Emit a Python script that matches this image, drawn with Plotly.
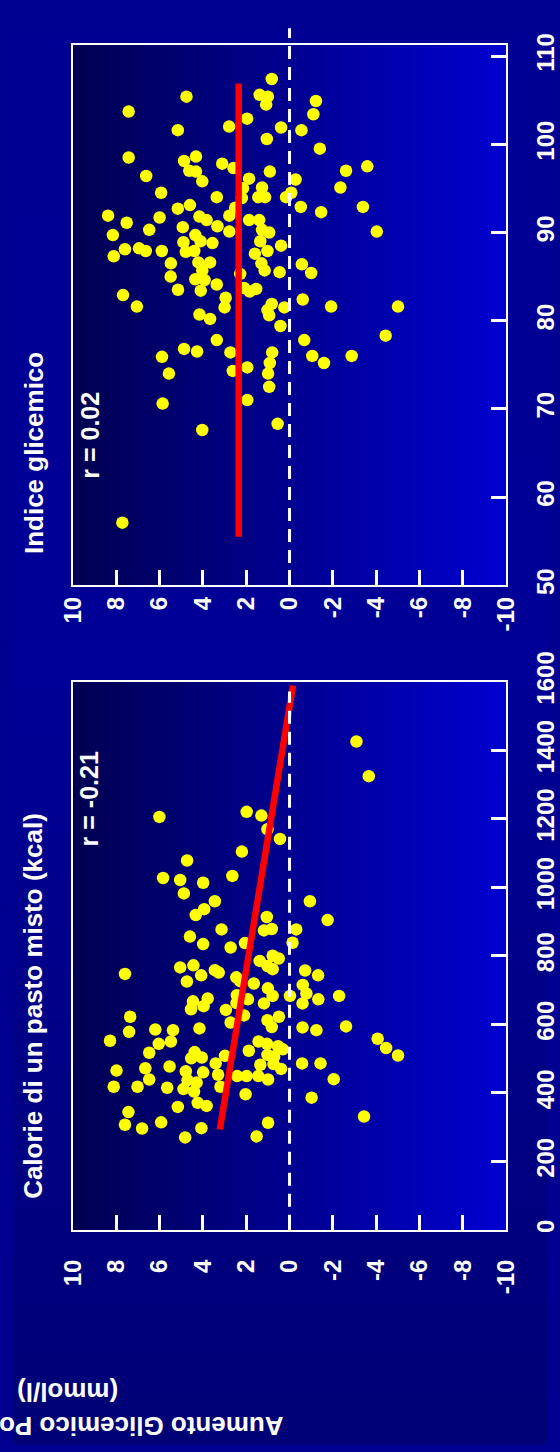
import plotly.graph_objects as go

# ---------------- data ----------------
# Panel 1 (top): Indice glicemico vs aumento glicemico post-prandiale
gi_index = [107.4, 105.4, 105.6, 105.4, 104.5, 103.7, 104.9, 103.4, 102.9, 101.6, 102.0, 101.9, 101.6,
            100.6, 99.5, 98.5, 98.6, 98.1, 97.8, 97.3, 97.5, 97.0, 96.9, 97.0, 96.9, 96.4, 95.8, 96.1,
            96.0, 95.1, 95.1, 94.5, 94.5, 95.0, 93.9, 94.0, 94.0, 94.0, 94.0, 92.9, 93.1, 92.9, 92.7,
            92.8, 91.9, 91.7, 91.8, 91.4, 91.9, 91.4, 91.4, 92.3, 91.1, 90.6, 90.7, 90.3, 90.1, 90.3,
            90.0, 90.1, 89.7, 89.7, 89.0, 88.9, 88.8, 89.0, 88.5, 88.1, 88.2, 87.9, 87.9, 87.8, 87.9,
            87.9, 87.3, 87.6, 86.5, 86.6, 86.6, 86.5, 86.4, 85.7, 85.7, 85.5, 85.4, 85.3, 85.0, 84.7,
            84.6, 84.1, 83.5, 83.4, 83.7, 83.3, 83.6, 82.9, 82.6, 82.4, 81.6, 81.5, 81.9, 81.2, 81.5,
            81.6, 81.6, 80.7, 80.2, 80.6, 79.4, 77.8, 77.8, 78.3, 76.8, 76.5, 76.4, 76.4, 75.9, 76.0,
            76.0, 75.2, 75.2, 74.0, 74.3, 74.7, 74.0, 72.5, 70.6, 71.0, 67.6, 68.3, 57.1]
gi_delta = [0.82, 4.76, 1.38, 1.00, 1.08, 7.43, -1.22, -1.10, 1.96, 5.16, 2.79, 0.39, -0.55,
            1.05, -1.40, 7.43, 4.32, 4.87, 3.11, 2.59, -3.59, -2.61, 0.91, 4.63, 4.32, 6.62, 4.03, 1.87,
            -0.28, -2.35, 1.27, 5.93, -0.08, 2.15, 2.20, 3.36, 1.44, 1.13, 0.16, -3.39, 4.60, -0.52, 5.16,
            2.51, 8.38, 6.00, 4.16, 3.83, 2.78, 1.87, 1.40, -1.46, 7.52, 4.93, 3.33, 6.48, 2.78, 1.27,
            0.94, -4.03, 8.16, 4.35, 4.11, 4.90, 3.56, 1.35, 0.39, 7.60, 6.95, 6.64, 5.90, 4.79, 4.40,
            1.02, 8.12, 1.60, 5.48, 4.21, 3.67, 1.30, -0.57, 4.03, 1.15, 0.46, -1.00, 2.28, 5.49, 4.35,
            3.92, 3.36, 5.15, 4.10, 2.10, 1.84, 1.54, 7.69, 2.95, -0.61, 7.05, 3.00, 0.82, 1.02, 0.24,
            -1.92, -5.01, 4.16, 3.67, 0.94, 0.42, 3.36, -0.68, -4.44, 4.87, 4.27, 2.73, 0.80, 5.89, -1.05,
            -2.87, 0.91, -1.59, 5.57, 2.62, 1.95, 0.99, 0.94, 5.86, 1.95, 4.03, 0.55, 7.72]
gi_fit_index = [55.5, 106.9]
gi_fit_delta = [2.35, 2.35]

# Panel 2 (bottom): Calorie di un pasto misto vs aumento glicemico
kcal = [1425, 1324, 1205, 1220, 1209, 1169, 1141, 1104, 1078, 1033, 1027, 1021, 1013, 982, 959, 959,
        919, 936, 913, 904, 877, 874, 878, 877, 856, 834, 824, 837, 838, 766, 772, 743, 758, 751,
        785, 800, 792, 770, 761, 757, 743, 747, 725, 737, 726, 719, 705, 683, 715, 690, 683, 683,
        673, 685, 673, 667, 675, 644, 653, 662, 661, 661, 622, 642, 626, 622, 612, 605, 592, 594,
        578, 585, 583, 588, 591, 583, 558, 531, 509, 552, 543, 550, 550, 543, 536, 527, 517, 519,
        501, 503, 523, 511, 506, 508, 486, 484, 470, 482, 486, 486, 465, 472, 477, 463, 460, 453,
        449, 449, 449, 439, 439, 440, 418, 418, 415, 430, 437, 411, 404, 418, 396, 386, 359, 371,
        362, 344, 307, 296, 314, 297, 270, 273, 313, 331]
kcal_delta = [-3.09, -3.66, 6.01, 1.98, 1.30, 1.02, 0.44, 2.20, 4.73, 2.64, 5.84, 5.05, 3.99, 4.88, 3.45, -0.94,
              4.33, 3.94, 1.05, -1.76, 3.14, 1.18, 0.82, -0.31, 4.60, 3.99, 2.72, 2.06, -0.14, 5.05, 4.44, 4.08, 3.45, 3.27,
              1.38, 0.78, 0.50, 1.02, 0.78, -0.72, -1.32, 7.60, 4.74, 2.46, 2.28, 1.65, 1.00, 0.78, -0.61, -0.78, -0.02, -2.29,
              -1.33, 2.43, 1.92, 4.46, 3.78, 4.55, 3.97, 2.45, 1.18, -0.60, 7.36, 2.94, 2.10, 0.49, 1.02, 2.72, 0.82, -2.61,
              7.41, 6.20, 5.38, 4.16, -0.60, -1.24, -4.07, -4.46, -5.01, 8.29, 6.04, 5.48, 1.43, 1.04, 0.53, 0.31, 6.48, 4.38,
              4.54, 4.05, 1.88, 1.02, 0.71, 2.98, 3.41, 0.74, 0.39, 1.35, -0.58, -1.43, 7.99, 6.66, 5.54, 4.79, 3.99, 3.30,
              2.42, 1.98, 1.44, 0.99, 6.48, -2.04, 8.12, 7.02, 5.65, 4.29, 4.71, 4.90, 4.41, 3.19, 2.03, -1.02, 5.16, 4.24,
              3.83, 7.44, 7.60, 6.81, 5.93, 4.07, 4.82, 1.52, 0.99, -3.44]
kcal_fit = [293, 1588]
kcal_fit_delta = [3.22, -0.16]

delta_ticks = [10, 8, 6, 4, 2, 0, -2, -4, -6, -8, -10]
kcal_ticks = [0, 200, 400, 600, 800, 1000, 1200, 1400, 1600]
gi_ticks = [50, 60, 70, 80, 90, 100, 110]

panel_titles = ["Indice glicemico", "Calorie di un pasto misto (kcal)"]
r_labels = ["r = 0.02", "r = -0.21"]
y_label = "Aumento Glicemico Post-prandiale<br>(mmol/l)"

# ---------------- figure ----------------
W, H = 560, 1452
FONT = "Liberation Sans, Arial, Helvetica, sans-serif"

def px_x(p):
    return p / W

def px_y(p):
    return 1 - p / H

def bold_labels(vals):
    return [f"<b>{v}</b>" for v in vals]

xdom = [px_x(62), px_x(517)]
ydom_bottom = [px_y(1234), px_y(670)]
ydom_top = [px_y(571), px_y(15)]

fig = go.Figure()

marker = dict(color="#FFFF00", size=12.5, line=dict(width=0))

fig.add_trace(go.Scatter(x=gi_delta, y=gi_index, mode="markers", marker=marker,
                         xaxis="x2", yaxis="y2", hoverinfo="skip"))
fig.add_trace(go.Scatter(x=gi_fit_delta, y=gi_fit_index, mode="lines",
                         line=dict(color="#FF0000", width=6.5), xaxis="x2", yaxis="y2"))
fig.add_trace(go.Scatter(x=kcal_delta, y=kcal, mode="markers", marker=marker,
                         xaxis="x", yaxis="y", hoverinfo="skip"))
fig.add_trace(go.Scatter(x=kcal_fit_delta, y=kcal_fit, mode="lines",
                         line=dict(color="#FF0000", width=6.5), xaxis="x", yaxis="y"))

shapes = []
# outer background vertical gradient
stops = [(0.0, 146), (0.45, 152), (1.0, 118)]
N = 30
for i in range(N):
    t0, t1 = i / N, (i + 1) / N
    tm = (t0 + t1) / 2
    for (a, ca), (b, cb) in zip(stops[:-1], stops[1:]):
        if a <= tm <= b:
            c = ca + (cb - ca) * (tm - a) / (b - a)
            break
    shapes.append(dict(type="rect", xref="paper", yref="paper", x0=0, x1=1,
                       y0=1 - t1 - 0.002, y1=1 - t0, fillcolor=f"rgb(0,0,{int(c)})",
                       line=dict(width=0), layer="below"))
# plot area horizontal gradients
M = 50
for ax_x, ax_y in [("x", "y"), ("x2", "y2")]:
    for i in range(M):
        t0, t1 = i / M, (i + 1) / M
        c = 82 + (208 - 82) * (t0 + t1) / 2
        shapes.append(dict(type="rect", xref=f"{ax_x} domain", yref=f"{ax_y} domain",
                           x0=t0, x1=min(1, t1 + 0.003), y0=0, y1=1,
                           fillcolor=f"rgb(0,0,{int(c)})", line=dict(width=0), layer="below"))
# zero reference lines (dashed)
shapes.append(dict(type="line", xref="x", yref="y domain", x0=0, x1=0, y0=0.004, y1=0.982,
                   line=dict(color="white", width=3, dash="13px,8px"), layer="above"))
shapes.append(dict(type="line", xref="x2", yref="y2 domain", x0=0, x1=0, y0=0.041, y1=1.03,
                   line=dict(color="white", width=3, dash="13px,8px"), layer="above"))

axis_common = dict(showgrid=False, zeroline=False, showline=True, mirror=True,
                   linecolor="white", linewidth=2, ticks="inside", ticklen=15,
                   tickwidth=3, tickcolor="white", tickangle=-90,
                   tickfont=dict(family=FONT, size=24, color="white"))

fig.update_layout(
    width=W, height=H,
    margin=dict(l=0, r=0, t=0, b=0),
    paper_bgcolor="#000090", plot_bgcolor="#00008c",
    showlegend=False,
    shapes=shapes,
    xaxis=dict(domain=xdom, range=[10, -10], anchor="y", tickvals=delta_ticks,
               ticktext=bold_labels(delta_ticks), ticklabelstandoff=18, **axis_common),
    yaxis=dict(domain=ydom_bottom, range=[0, 1600], anchor="x", side="right",
               tickvals=kcal_ticks, ticktext=bold_labels(kcal_ticks),
               ticklabelstandoff=17, **axis_common),
    xaxis2=dict(domain=xdom, range=[10, -10], anchor="y2", tickvals=delta_ticks,
                ticktext=bold_labels(delta_ticks), ticklabelstandoff=0, **axis_common),
    yaxis2=dict(domain=ydom_top, range=[50, 111.3], anchor="x2", side="right",
                tickvals=gi_ticks, ticktext=bold_labels(gi_ticks),
                ticklabelstandoff=17, **axis_common),
)

ann = []
ann.append(dict(text=panel_titles[0], textangle=-90, xref="paper", yref="paper",
                x=px_x(21), y=px_y(541), xanchor="center", yanchor="bottom", showarrow=False,
                font=dict(family=FONT, size=26, color="white", weight="bold")))
ann.append(dict(text=panel_titles[1], textangle=-90, xref="paper", yref="paper",
                x=px_x(20), y=px_y(1204), xanchor="center", yanchor="bottom", showarrow=False,
                font=dict(family=FONT, size=26, color="white", weight="bold")))
ann.append(dict(text=r_labels[0], textangle=-90, xref="paper", yref="paper",
                x=px_x(79), y=px_y(417), xanchor="center", yanchor="middle", showarrow=False,
                font=dict(family=FONT, size=25, color="white", weight="bold")))
ann.append(dict(text=r_labels[1], textangle=-90, xref="paper", yref="paper",
                x=px_x(79), y=px_y(791), xanchor="center", yanchor="middle", showarrow=False,
                font=dict(family=FONT, size=25, color="white", weight="bold")))
ann.append(dict(text=y_label, textangle=180, xref="paper", yref="paper",
                x=px_x(56), y=px_y(1418), xanchor="center", yanchor="middle", showarrow=False,
                align="center",
                font=dict(family=FONT, size=26, color="white", weight="bold")))
fig.update_layout(annotations=ann)

fig.write_html("out.html", config={"displayModeBar": False, "staticPlot": True},
               post_script="document.body.style.margin='0';document.body.style.overflow='hidden';")
